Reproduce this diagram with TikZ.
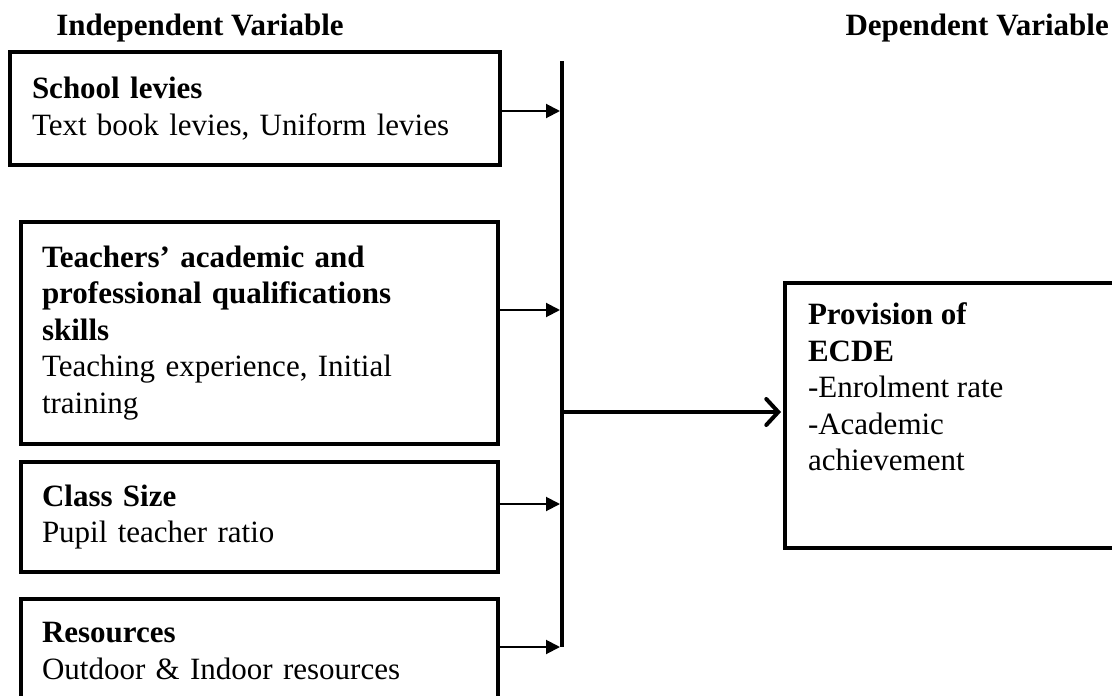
\documentclass[tikz,border=0pt]{standalone}
\usepackage{fontspec}
\setmainfont{Liberation Serif}
\usetikzlibrary{positioning, calc, arrows.meta}
\tikzset{factor/.style={draw, line width=4pt, outer sep=0pt, anchor=north west, align=left, inner xsep=21pt, inner ysep=0pt, font=\fontsize{31}{36.5}\selectfont}}
\tikzset{outcome/.style={draw, line width=4pt, outer sep=0pt, anchor=north west, inner xsep=23pt, inner ysep=20pt, font=\fontsize{31}{36.5}\selectfont}}
\tikzset{heading/.style={font=\fontsize{31}{36.5}\selectfont\bfseries, inner sep=0pt}}
\tikzset{feed/.style={line width=2pt, -{Triangle[length=14pt,width=14pt]}}}
\tikzset{bus/.style={line width=4.5pt}}
\tikzset{main/.style={line width=4pt, shorten >=4pt, -{Straight Barb[length=12pt,width=26pt,line cap=round]}}}

\begin{document}
\begin{tikzpicture}[x=1pt,y=-1pt]
      \useasboundingbox (0,0) rectangle (1112,696);

      % BOXES

      \node[factor, text width=446pt, minimum width=490pt, minimum height=113pt, inner xsep=22pt] (levies) at (10,52)
        {\textbf{School levies}\\Text book levies, Uniform levies};
      \node[factor, text width=435pt, minimum width=477pt, minimum height=222pt] (teachers) at (21,222)
        {\textbf{Teachers’ academic and}\\\textbf{professional qualifications}\\\textbf{skills}\\Teaching experience, Initial\\training};
      \node[factor, text width=435pt, minimum width=477pt, minimum height=110pt] (classsize) at (21,462)
        {\textbf{Class Size}\\Pupil teacher ratio};
      \node[factor, text width=435pt, minimum width=477pt, minimum height=104pt] (resources) at (21,599)
        {\textbf{Resources}\\Outdoor \& Indoor resources};
      \node[outcome] (ecde) at (785,283)
        {\parbox[t][225pt][t]{320pt}{\raggedright\textbf{Provision of}\\\textbf{ECDE}\\-Enrolment rate\\-Academic\\achievement}};

      % LABELS

      \node[heading] (indep) at (200,28) {Independent Variable};
      \node[heading, anchor=east] (dep) at (1109,28) {Dependent Variable};

      % ARCS

      \coordinate (bustop) at (562,61);
      \coordinate (busbot) at (562,647);
      \draw[bus] (bustop) -- (busbot);

      \coordinate (f1) at (560,111);
      \coordinate (f2) at (560,310);
      \coordinate (f3) at (560,504);
      \coordinate (f4) at (560,647);
      \draw[feed] (levies.east |- f1) -- (f1);
      \draw[feed] (teachers.east |- f2) -- (f2);
      \draw[feed] (classsize.east |- f3) -- (f3);
      \draw[feed] (resources.east |- f4) -- (f4);

      \coordinate (hub) at (562,412);
      \draw[main] (hub) -- (ecde.west |- hub);
\end{tikzpicture}
\end{document}
